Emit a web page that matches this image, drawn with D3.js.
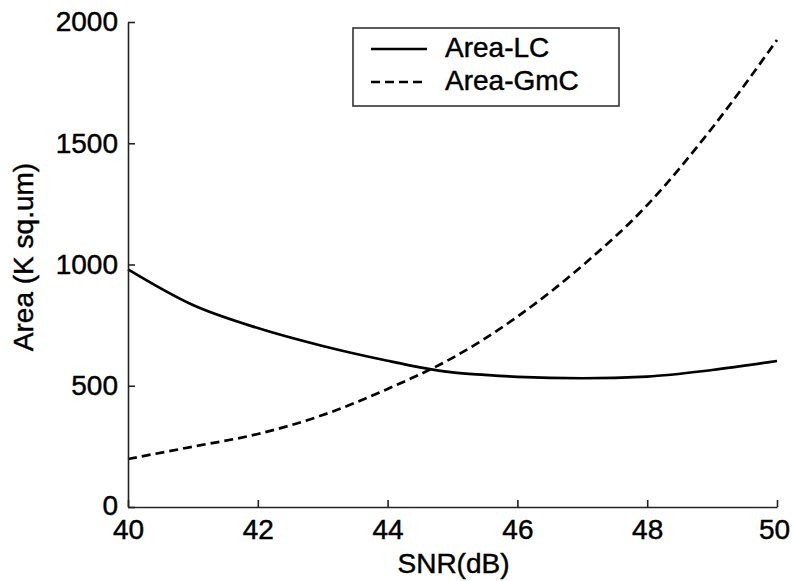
<!DOCTYPE html>
<html><head><meta charset="utf-8">
<script src="https://cdn.jsdelivr.net/npm/d3@7"></script>
<style>body{margin:0;background:#fff}svg{display:block}text{font-family:Arial,"Liberation Sans",sans-serif;fill:#000;stroke:#000;stroke-width:0.45px}</style>
</head><body><svg id="c" width="792" height="581"></svg>
<script>
const snr = [40, 41, 42, 43, 44, 44.5, 45, 45.5, 46, 47, 48, 49, 50];
const areaLC = [980, 833, 738, 664, 603, 576, 555, 545, 537, 531, 538, 565, 602];
const snrG = [40, 41, 42, 43, 44, 45, 46, 47, 48, 49, 50];
const areaGmC = [198, 249, 301, 379, 487, 615, 785, 995, 1245, 1563, 1926];
const xTicks = [40, 42, 44, 46, 48, 50];
const yTicks = [0, 500, 1000, 1500, 2000];
const seriesNames = ["Area-LC", "Area-GmC"];

const svg = d3.select("#c");
const L = 128, R = 777, T = 22, B = 507;
const x = d3.scaleLinear().domain([40, 50]).range([L, R]);
const y = d3.scaleLinear().domain([0, 2000]).range([B, T]);

const line = d3.line().x(d => x(d[0])).y(d => y(d[1])).curve(d3.curveMonotoneX);
const lc = snr.map((s, i) => [s, areaLC[i]]);
const gm = snrG.map((s, i) => [s, areaGmC[i]]);

svg.append("path").attr("d", line(lc)).attr("fill", "none").attr("stroke", "#000").attr("stroke-width", 2.7);
svg.append("path").attr("d", line(gm)).attr("fill", "none").attr("stroke", "#000").attr("stroke-width", 2.7).attr("stroke-dasharray", "9,5");

const xa = svg.append("g").attr("transform", `translate(0,${B})`)
  .call(d3.axisBottom(x).tickValues(xTicks).tickFormat(d3.format("d")).tickSize(-7).tickSizeOuter(0));
const ya = svg.append("g").attr("transform", `translate(${L},0)`)
  .call(d3.axisLeft(y).tickValues(yTicks).tickFormat(d3.format("d")).tickSize(-7).tickSizeOuter(0).tickPadding(10));
[xa, ya].forEach(a => {
  a.selectAll("path,line").attr("stroke", "#222").attr("stroke-width", 1.6);
  a.selectAll("text").attr("font-size", 28).attr("fill", "#000").attr("font-family", "Arial, 'Liberation Sans', sans-serif");
});
xa.selectAll("text").attr("dy", "0.71em").attr("y", 12).attr("dx", d => d === 50 ? -3 : 0);
ya.selectAll("text").attr("dy", d => d === 0 ? "0.25em" : "0.32em");

svg.append("text").attr("x", (L + R) / 2 + 1).attr("y", 573).attr("text-anchor", "middle").attr("font-size", 28).text("SNR(dB)");
svg.append("text").attr("transform", `translate(33,257) rotate(-90)`).attr("text-anchor", "middle").attr("font-size", 28).text("Area (K sq.um)");

// legend
const lg = svg.append("g");
lg.append("rect").attr("x", 353).attr("y", 28).attr("width", 266).attr("height", 78).attr("fill", "#fff").attr("stroke", "#333").attr("stroke-width", 1.6);
const rows = [{name: seriesNames[0], dash: null, y: 49}, {name: seriesNames[1], dash: "9,5", y: 82}];
rows.forEach(r => {
  lg.append("line").attr("x1", 371).attr("x2", 427).attr("y1", r.y).attr("y2", r.y).attr("stroke", "#000").attr("stroke-width", 2.7).attr("stroke-dasharray", r.dash);
  lg.append("text").attr("x", 445).attr("y", r.y + 8).attr("font-size", 28).text(r.name);
});
</script></body></html>
